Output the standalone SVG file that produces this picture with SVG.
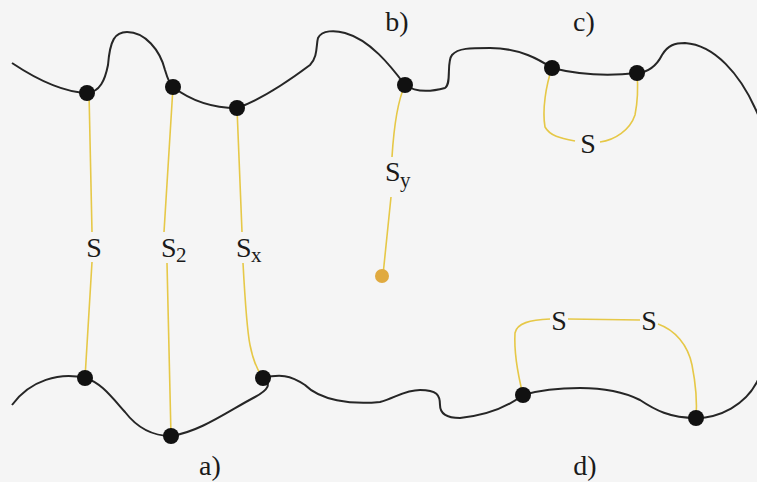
<svg xmlns="http://www.w3.org/2000/svg" width="757" height="482" viewBox="0 0 757 482">
<style>
.curve{fill:none;stroke:#262626;stroke-width:2}
.str{fill:none;stroke:#e6c847;stroke-width:1.6}
.node{fill:#111}
.lbl{font-family:"Liberation Serif",serif;font-size:28px;fill:#1a1a1a}
.sub{font-family:"Liberation Serif",serif;font-size:21px;fill:#1a1a1a}
</style>
<rect width="757" height="482" fill="#f5f5f5"/>
<g id="connectors">
<path class="curve" d="M12,63 C30,75 60,92 87,93 C100,92 105,80 108,65 C110,40 115,32 127,32 C145,32 160,50 165,70 C168,80 170,85 173,87 C190,100 210,108 237,108 C260,100 290,80 310,65 C318,57 316,45 318,38 C322,30 335,30 345,33 C370,40 390,65 405,85 C415,92 430,92 445,88 C452,84 446,62 452,55 C458,48 470,48 490,48 C520,48 540,60 552,68 C580,75 610,76 637,73 C650,72 657,65 662,55 C668,45 675,43 685,43 C715,45 740,75 755,108 C790,180 790,320 757,382 C745,405 720,418 696,418 C670,418 655,410 640,400 C620,390 600,388 580,388 C560,388 540,390 523,395 C510,405 490,415 460,418 C445,418 440,412 440,405 C440,395 437,390 420,390 C405,390 395,398 380,402 C350,405 320,400 305,385 C290,375 280,374 263,378"/>
<path class="curve" d="M263,378 C272,384 268,390 255,397 C230,410 200,432 171,436 C150,436 135,425 125,412 C110,395 100,382 85,378 C60,372 30,380 12,405"/>
<path class="str" d="M89,93 L92,232 M92,262 L85,378"/>
<path class="str" d="M173,87 L164,232 M167,263 L171,436"/>
<path class="str" d="M237,108 L242,232 M243,263 C245,300 247,330 250,345 C253,360 257,370 263,378"/>
<path class="str" d="M405,85 C398,100 394,125 392,157 M391,197 L383,275"/>
<path class="str" d="M552,68 C546,85 542,110 545,127 C550,136 560,138 575,141 M600,142 C615,140 630,130 635,115 C638,100 638,85 637,73"/>
<path class="str" d="M523,395 C518,375 514,350 515,333 C517,323 530,320 550,319 M568,319 L640,320 M658,324 C675,330 688,345 692,365 C696,385 697,405 696,418"/>
</g>
<g id="node-a-top1"><circle class="node" cx="87" cy="93" r="8"/></g>
<g id="node-a-top2"><circle class="node" cx="173" cy="87" r="8"/></g>
<g id="node-a-top3"><circle class="node" cx="237" cy="108" r="8"/></g>
<g id="node-a-bot1"><circle class="node" cx="85" cy="378" r="8"/></g>
<g id="node-a-bot2"><circle class="node" cx="171" cy="436" r="8"/></g>
<g id="node-a-bot3"><circle class="node" cx="263" cy="378" r="8"/></g>
<g id="node-b"><circle class="node" cx="405" cy="85" r="8"/></g>
<g id="node-b-end"><circle cx="382" cy="276" r="7" fill="#e0aa40"/></g>
<g id="node-c1"><circle class="node" cx="552" cy="68" r="8"/></g>
<g id="node-c2"><circle class="node" cx="637" cy="73" r="8"/></g>
<g id="node-d1"><circle class="node" cx="523" cy="395" r="8"/></g>
<g id="node-d2"><circle class="node" cx="696" cy="418" r="8"/></g>
<g id="labels">
<text class="lbl" x="94" y="257" text-anchor="middle">S</text>
<text class="lbl" x="161" y="257">S</text><text class="sub" x="176" y="262">2</text>
<text class="lbl" x="236" y="257">S</text><text class="sub" x="251" y="262">x</text>
<text class="lbl" x="385" y="181">S</text><text class="sub" x="400" y="187">y</text>
<text class="lbl" x="588" y="153" text-anchor="middle">S</text>
<text class="lbl" x="559" y="330" text-anchor="middle">S</text>
<text class="lbl" x="649" y="330" text-anchor="middle">S</text>
<text class="lbl" x="397" y="31" text-anchor="middle">b)</text>
<text class="lbl" x="584" y="31" text-anchor="middle">c)</text>
<text class="lbl" x="210" y="475" text-anchor="middle">a)</text>
<text class="lbl" x="585" y="475" text-anchor="middle">d)</text>
</g>
</svg>
